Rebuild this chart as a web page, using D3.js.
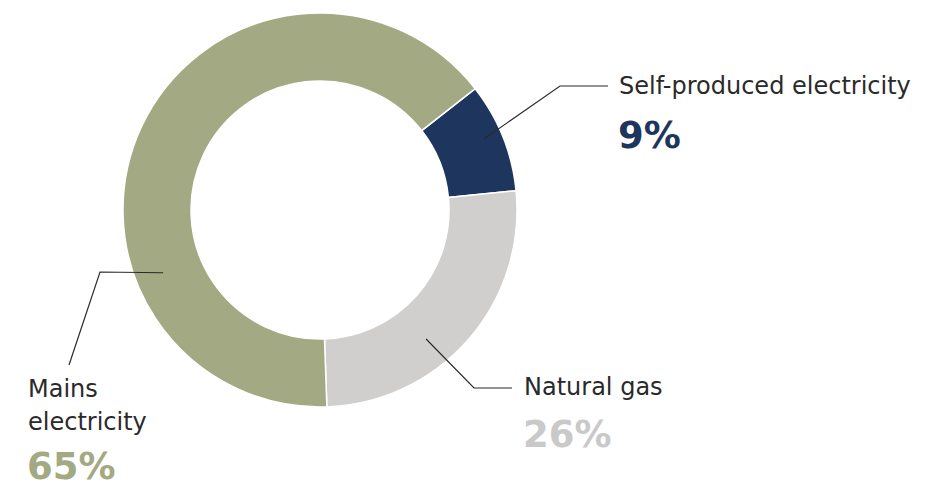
<!DOCTYPE html>
<meta charset="utf-8">
<script src="https://cdn.jsdelivr.net/npm/d3@7"></script>
<style>
body { margin: 0; background: #fff; }
text { font-family: "DejaVu Sans", sans-serif; }
</style>
<body>
<script>
var categories = ["Self-produced electricity", "Natural gas", "Mains electricity"]
var labelLines = [["Self-produced electricity"], ["Natural gas"], ["Mains", "electricity"]]
var values = [9, 26, 65]
var colors = ["#1e355e", "#d0cfcd", "#a3a982"]
var pctColors = ["#1e355e", "#c9c9c9", "#a3a982"]

var w = 925, h = 491
var cx = 320, cy = 210
var outerR = 197, innerR = 129
var startAngle = 52 * Math.PI / 180

var svg = d3.select("body").append("svg").attr("width", w).attr("height", h)
var g = svg.append("g").attr("transform", "translate(" + cx + "," + cy + ")")

var pie = d3.pie().sort(null).value(d => d).startAngle(startAngle).endAngle(startAngle + 2 * Math.PI)
var arcs = pie(values)
var arc = d3.arc().innerRadius(innerR).outerRadius(outerR)

g.selectAll("path").data(arcs).enter().append("path")
  .attr("d", arc)
  .attr("fill", (d, i) => colors[i])
  .attr("stroke", "#fff").attr("stroke-width", 1.5)

// leader line layout: anchor angle (fraction through slice), radius, elbow and label spot
var layout = [
  { t: 0.45, r: 179, elbow: [240, -124], end: [288, -124], tx: 299, ty: -116, py: -62 },
  { t: 0.6, r: 167, elbow: [154, 178], end: [192, 178], tx: 204, ty: 185, py: 237 },
  { t: 0.3, r: 169, elbow: [-220, 62], end: [-251, 155], tx: -292, ty: 187, py: 269 }
]

arcs.forEach((d, i) => {
  var L = layout[i]
  var a = d.startAngle + (d.endAngle - d.startAngle) * L.t
  var p = [Math.sin(a) * L.r, -Math.cos(a) * L.r]
  g.append("polyline")
    .attr("points", [p, L.elbow, L.end].map(q => q.join(",")).join(" "))
    .attr("fill", "none").attr("stroke", "#2a2a2a").attr("stroke-width", 1.2)
  var t = g.append("text").attr("x", L.tx).attr("y", L.ty)
    .attr("fill", "#2a2a2a").attr("font-size", 24)
  labelLines[i].forEach((s, k) => {
    t.append("tspan").attr("x", L.tx).attr("dy", k ? 33 : 0).text(s)
  })
  g.append("text").attr("x", L.tx - 1).attr("y", L.py)
    .attr("fill", pctColors[i]).attr("font-size", 37).attr("font-weight", "bold")
    .text(values[i] + "%")
})
</script>
</body>
